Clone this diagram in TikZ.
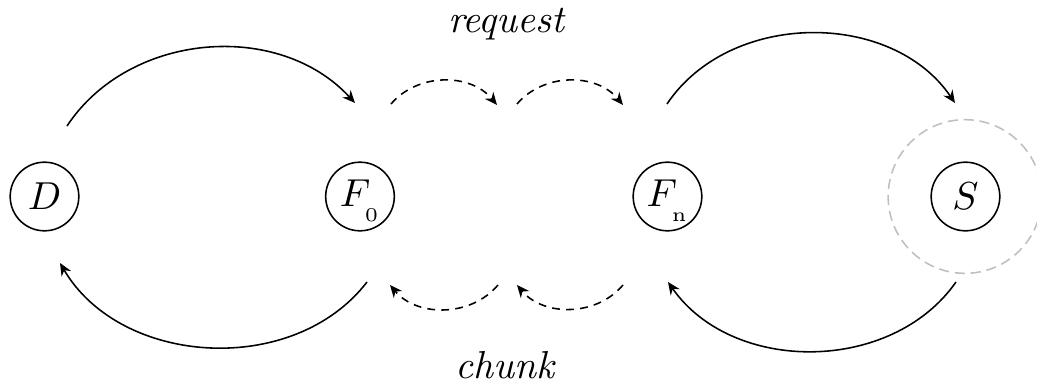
\documentclass[tikz,border=0pt]{standalone}
\usetikzlibrary{arrows.meta}
\newcommand{\tinysub}[1]{\smash{\lower2.3pt\hbox{$\scriptscriptstyle #1$}}}
\begin{document}
\begin{tikzpicture}[x=0.2564pt,y=-0.2564pt,
  state/.style={draw,circle,minimum size=17.6pt,inner sep=0pt,line width=0.4pt},
  solidarc/.style={-{Stealth[length=3.2pt,width=2.8pt]},line width=0.4pt},
  dasharc/.style={-{Stealth[length=3.2pt,width=2.8pt]},line width=0.4pt,dash pattern=on 2pt off 1.6pt},
  halo/.style={draw=black!25,circle,minimum size=39.4pt,inner sep=0pt,dash pattern=on 2.6pt off 1.5pt}]
\useasboundingbox (0,0) rectangle (1037,388);
% nodes
\node[halo] (halo) at (965,196.5) {};
\node[state] (D) at (44.5,196.5) {$D$};
\node[state,text depth=1.6pt] (F0) at (360,196.5) {$F_{\tinysub{0}}$};
\node[state,text depth=1.6pt] (Fn) at (667.5,196.5) {$F_{\tinysub{\mathrm{n}}}$};
\node[state] (S) at (965.5,196.5) {$S$};
% labels
\node[anchor=base] (req) at (507,32) {\textit{request}};
\node[anchor=base] (chk) at (506,378) {\textit{chunk}};
% top arc end points
\coordinate (a1) at (67,126);  \coordinate (a2) at (355,103);
\coordinate (b1) at (391,104); \coordinate (b2) at (497,105);
\coordinate (c1) at (517,104); \coordinate (c2) at (623,105);
\coordinate (d1) at (667,104); \coordinate (d2) at (955,103);
% bottom arc end points
\coordinate (e1) at (956,282); \coordinate (e2) at (668,282);
\coordinate (f1) at (623,285); \coordinate (f2) at (517,285);
\coordinate (g1) at (498,285); \coordinate (g2) at (390,285);
\coordinate (h1) at (367,282); \coordinate (h2) at (60,263);
% request arcs
\draw[solidarc] (a1) to[bend left=52] (a2);
\draw[dasharc] (b1) to[bend left=50] (b2);
\draw[dasharc] (c1) to[bend left=50] (c2);
\draw[solidarc] (d1) to[bend left=56] (d2);
% chunk arcs
\draw[solidarc] (e1) to[bend left=55] (e2);
\draw[dasharc] (f1) to[bend left=50] (f2);
\draw[dasharc] (g1) to[bend left=50] (g2);
\draw[solidarc] (h1) to[bend left=56] (h2);
\end{tikzpicture}
\end{document}
